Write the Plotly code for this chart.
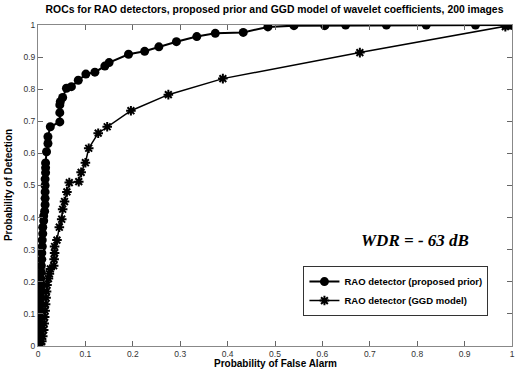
import plotly.graph_objects as go

# Proposed prior (circles)
pf_prior = [0, 0.001, 0.002, 0.002, 0.003, 0.004, 0.004, 0.005, 0.005, 0.005, 0.006, 0.006,
            0.006, 0.007, 0.007, 0.008, 0.008, 0.009, 0.009, 0.010, 0.010, 0.012, 0.012, 0.014,
            0.015, 0.015, 0.015, 0.015, 0.015, 0.016, 0.016, 0.016, 0.018, 0.021, 0.021, 0.026,
            0.046, 0.046, 0.046, 0.047, 0.052, 0.060, 0.0705, 0.085, 0.101, 0.120, 0.141, 0.150,
            0.191, 0.225, 0.255, 0.292, 0.335, 0.374, 0.433, 0.485, 0.540, 0.605, 0.649, 0.735,
            0.819, 0.923, 0.986, 0.996, 1.0]
pd_prior = [0, 0.01, 0.02, 0.035, 0.05, 0.07, 0.09, 0.11, 0.13, 0.15, 0.17, 0.19,
            0.21, 0.23, 0.25, 0.27, 0.29, 0.31, 0.33, 0.35, 0.37, 0.39, 0.405, 0.42,
            0.44, 0.46, 0.48, 0.50, 0.52, 0.54, 0.555, 0.57, 0.605, 0.631, 0.652, 0.683,
            0.698, 0.727, 0.751, 0.761, 0.774, 0.803, 0.808, 0.828, 0.847, 0.853, 0.872, 0.883,
            0.909, 0.918, 0.932, 0.948, 0.964, 0.974, 0.977, 0.994, 0.998, 0.998, 1.0, 1.0,
            1.0, 1.0, 1.0, 1.0, 1.0]

# GGD model (stars)
pf_ggd = [0, 0.005, 0.008, 0.010, 0.012, 0.013, 0.014, 0.015, 0.016, 0.017, 0.018, 0.019,
          0.022, 0.024, 0.026, 0.033, 0.034, 0.035, 0.035, 0.040, 0.045, 0.050, 0.052, 0.056,
          0.061, 0.066, 0.086, 0.091, 0.100, 0.107, 0.127, 0.146, 0.196, 0.275, 0.390, 0.679,
          0.986, 1.0]
pd_ggd = [0, 0.005, 0.015, 0.03, 0.05, 0.07, 0.09, 0.11, 0.13, 0.15, 0.17, 0.19,
          0.21, 0.225, 0.24, 0.25, 0.27, 0.29, 0.31, 0.33, 0.37, 0.395, 0.426, 0.45,
          0.48, 0.509, 0.512, 0.541, 0.571, 0.616, 0.663, 0.683, 0.733, 0.783, 0.833, 0.914,
          0.995, 1.0]

ticks = [0, 0.1, 0.2, 0.3, 0.4, 0.5, 0.6, 0.7, 0.8, 0.9, 1]
tick_labels = ["0", "0.1", "0.2", "0.3", "0.4", "0.5", "0.6", "0.7", "0.8", "0.9", "1"]

FONT = "Liberation Sans, Arial, sans-serif"

fig = go.Figure()
fig.add_trace(go.Scatter(
    x=pf_prior, y=pd_prior, mode="lines+markers",
    name="<b>RAO detector (proposed prior)</b>",
    line=dict(color="black", width=2),
    marker=dict(symbol="circle", size=9, color="black"),
))
fig.add_trace(go.Scatter(
    x=pf_ggd, y=pd_ggd, mode="lines+markers",
    name="<b>RAO detector (GGD model)</b>",
    line=dict(color="black", width=1.5),
    marker=dict(symbol="asterisk-open", size=8, color="black",
                line=dict(color="black", width=2)),
))

axis_common = dict(
    range=[0, 1], tickvals=ticks, ticktext=tick_labels,
    ticks="inside", ticklen=5, tickcolor="#666", tickwidth=1,
    showline=True, linecolor="#888", linewidth=1, mirror="ticks",
    showgrid=False, zeroline=False, automargin=False,
    tickfont=dict(family=FONT, size=8.5, color="#333"),
)

fig.update_layout(
    width=516, height=369,
    margin=dict(l=38, r=4, t=25, b=23),
    paper_bgcolor="white", plot_bgcolor="white",
    title=dict(text="<b>ROCs for RAO detectors, proposed prior and GGD model of wavelet coefficients, 200 images</b>",
               x=0.532, xanchor="center", y=0.985, yanchor="top",
               font=dict(family=FONT, size=10.4, color="black")),
    xaxis=dict(**axis_common),
    yaxis=dict(**axis_common),
    legend=dict(x=0.56, y=0.249, xanchor="left", yanchor="top",
                bgcolor="white", bordercolor="#333", borderwidth=1,
                font=dict(family=FONT, size=9.5, color="black"),
                itemwidth=30, tracegroupgap=0),
    showlegend=True,
)

fig.add_annotation(
    x=0.5, y=-0.0535, xref="paper", yref="paper", xanchor="center", yanchor="middle",
    text="<b>Probability of False Alarm</b>", showarrow=False,
    font=dict(family=FONT, size=10, color="black"),
)
fig.add_annotation(
    x=-0.062, y=0.5, xref="paper", yref="paper", xanchor="center", yanchor="middle",
    text="<b>Probability of Detection</b>", showarrow=False, textangle=-90,
    font=dict(family=FONT, size=10, color="black"),
)
fig.add_annotation(
    x=0.795, y=0.33, xref="x", yref="y",
    text="<b><i>WDR = - 63 dB</i></b>", showarrow=False,
    font=dict(family="Liberation Serif, Times New Roman, serif", size=17, color="black"),
)

fig.write_html("out.html", config={"displayModeBar": False},
               post_script="document.body.style.margin='0';document.body.style.padding='0';")
